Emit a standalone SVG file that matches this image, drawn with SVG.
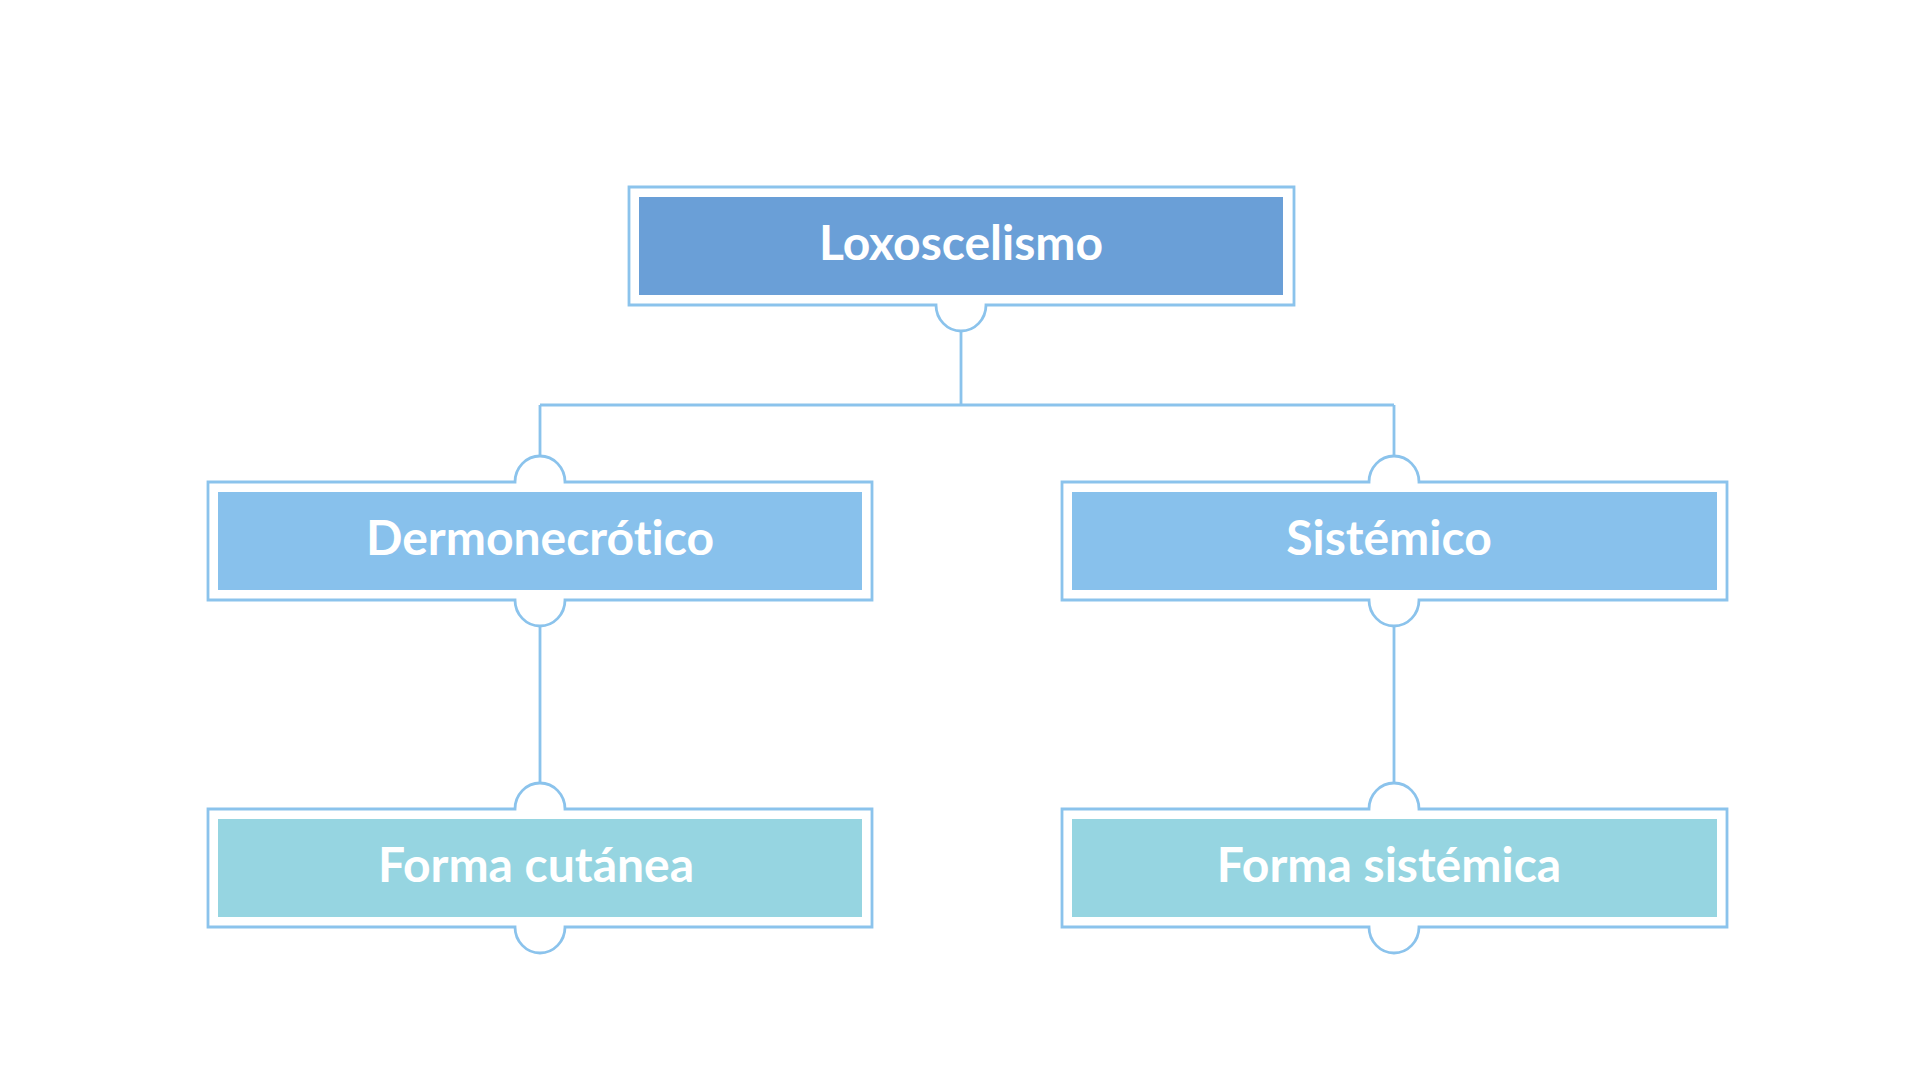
<svg xmlns="http://www.w3.org/2000/svg" width="1920" height="1080" viewBox="0 0 1920 1080">
<style>
.outline{fill:#ffffff;stroke:#8BC3EC;stroke-width:2.8}
.conn{fill:none;stroke:#8BC3EC;stroke-width:2.8}
.lbl{font-family:Lato,"Liberation Sans",sans-serif;font-weight:bold;font-size:48px;fill:#ffffff;text-anchor:middle;font-variant-ligatures:none;font-feature-settings:"liga" 0}
.f1{fill:#6A9FD7}
.f2{fill:#88C1EC}
.f3{fill:#96D5E1}
</style>
<rect width="1920" height="1080" fill="#ffffff"/>
<g id="connectors">
<path class="conn" d="M961 331 V405 M540 405 H1394 M540 405 V457 M1394 405 V457 M540 626 V784 M1394 626 V784"/>
</g>
<g id="node-loxoscelismo">
<path class="outline" d="M629 187 H1294 V305 H986 A25 26 0 0 1 936 305 H629 Z"/>
<rect class="f1" x="639" y="197" width="644" height="98"/>
<text class="lbl" x="961" y="260">Loxoscelismo</text>
</g>
<g id="node-dermonecrotico">
<path class="outline" d="M208 482 H515 A25 26 0 0 1 565 482 H872 V600 H565 A25 26 0 0 1 515 600 H208 Z"/>
<rect class="f2" x="218" y="492" width="644" height="98"/>
<text class="lbl" x="540" y="555">Dermonecrótico</text>
</g>
<g id="node-sistemico">
<path class="outline" d="M1062 482 H1369 A25 26 0 0 1 1419 482 H1727 V600 H1419 A25 26 0 0 1 1369 600 H1062 Z"/>
<rect class="f2" x="1072" y="492" width="645" height="98"/>
<text class="lbl" x="1389" y="555">Sistémico</text>
</g>
<g id="node-forma-cutanea">
<path class="outline" d="M208 809 H515 A25 26 0 0 1 565 809 H872 V927 H565 A25 26 0 0 1 515 927 H208 Z"/>
<rect class="f3" x="218" y="819" width="644" height="98"/>
<text class="lbl" x="536" y="882">Forma cutánea</text>
</g>
<g id="node-forma-sistemica">
<path class="outline" d="M1062 809 H1369 A25 26 0 0 1 1419 809 H1727 V927 H1419 A25 26 0 0 1 1369 927 H1062 Z"/>
<rect class="f3" x="1072" y="819" width="645" height="98"/>
<text class="lbl" x="1389" y="882">Forma sistémica</text>
</g>
</svg>
